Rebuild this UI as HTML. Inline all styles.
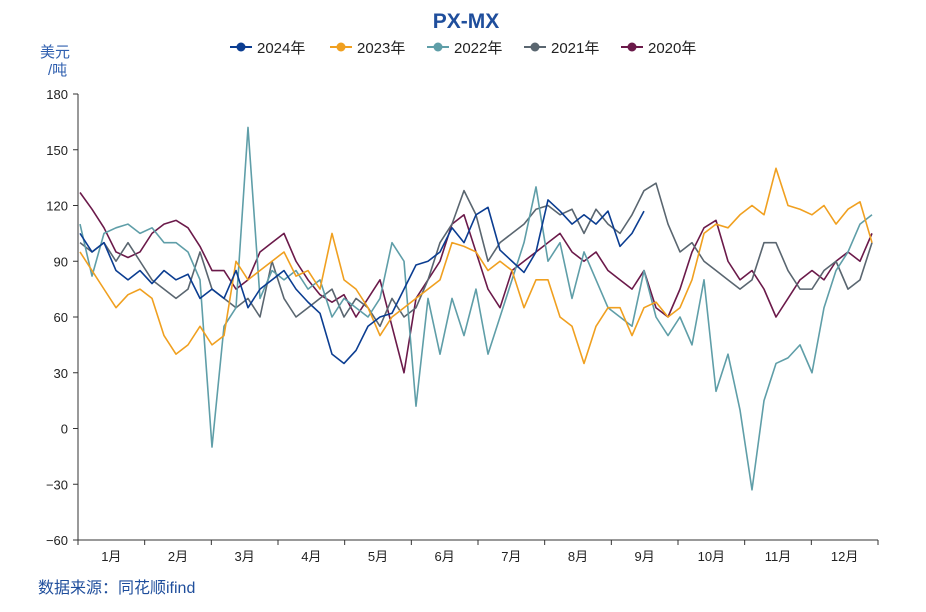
<!DOCTYPE html>
<html><head><meta charset="utf-8"><style>
body{margin:0;background:#fff;}
svg text{font-family:"Liberation Sans","Noto Sans CJK SC",sans-serif;}
</style></head><body>
<svg id="chart" width="926" height="607" xmlns="http://www.w3.org/2000/svg">
<text x="466" y="28" text-anchor="middle" font-size="21" font-weight="bold" fill="#1f4e9c">PX-MX</text>
<text x="40" y="57" font-size="15" fill="#2f5faf">美元</text>
<text x="48" y="75" font-size="15" fill="#2f5faf">/吨</text>
<text x="38" y="593" font-size="16" fill="#1f4e9c">数据来源：同花顺ifind</text>
<g id="legend"></g>
<g id="axes"></g>
<g id="series"></g>
</svg>
<script>
const months=["1月","2月","3月","4月","5月","6月","7月","8月","9月","10月","11月","12月"];
const yTicks=[180,150,120,90,60,30,0,-30,-60];
const seriesNames=["2024年","2023年","2022年","2021年","2020年"];
const s2024=[105,95,100,85,80,85,78,85,80,83,70,75,70,85,65,75,80,85,75,68,62,40,35,42,55,60,62,75,88,90,95,108,100,115,119,96,90,84,95,123,117,110,115,110,117,98,105,117];
const s2023=[95,85,75,65,72,75,70,50,40,45,55,45,50,90,80,85,90,95,82,85,75,105,80,75,65,50,60,65,70,75,80,100,98,95,85,90,85,65,80,80,60,55,35,55,65,65,50,65,68,60,65,80,105,110,108,115,120,115,140,120,118,115,120,110,118,122,100];
const s2022=[110,82,105,108,110,105,108,100,100,95,80,-10,55,65,162,70,85,80,85,75,80,60,70,65,60,70,100,90,12,70,40,70,50,75,40,60,80,100,130,90,100,70,95,80,65,60,55,85,60,50,60,45,80,20,40,10,-33,15,35,38,45,30,65,85,95,110,115];
const s2021=[100,95,100,90,100,90,80,75,70,75,95,75,70,65,70,60,90,70,60,65,70,75,60,70,65,55,70,60,65,80,100,110,128,115,90,100,105,110,118,120,115,118,105,118,110,105,115,128,132,110,95,100,90,85,80,75,80,100,100,85,75,75,85,90,75,80,100];
const s2020=[127,118,108,95,92,95,105,110,112,108,98,85,85,75,80,95,100,105,90,80,72,68,72,60,70,80,55,30,70,80,90,110,115,95,75,65,85,90,95,100,105,95,90,95,85,80,75,85,65,60,75,95,108,112,90,80,85,75,60,70,80,85,80,90,95,90,105];
const allSeries=[s2024,s2023,s2022,s2021,s2020];
const colors=["#0b3d91","#f0a020","#5f9ea8","#5a6670","#6b1a4a"];
const X0=78,X1=878,Y0=94,Y1=540,STEP=12;
const yScale=v=>Y0+(180-v)/240*(Y1-Y0);
const xScale=i=>X0+2+i*STEP;
const NS="http://www.w3.org/2000/svg";
function mk(t,a,p){const e=document.createElementNS(NS,t);for(const k in a)e.setAttribute(k,a[k]);p.appendChild(e);return e;}
const axes=document.getElementById('axes');
const ya=mk('line',{x1:X0,y1:Y0,x2:X0,y2:Y1,stroke:'#333','stroke-width':1},axes);


const xa=mk('line',{x1:X0,y1:Y1,x2:X1,y2:Y1,stroke:'#333','stroke-width':1},axes);


yTicks.forEach(v=>{const y=yScale(v);
 mk('line',{x1:X0-5,y1:y,x2:X0,y2:y,stroke:'#333'},axes);
 const t=mk('text',{x:68,y:y+5,'text-anchor':'end','font-size':13,fill:'#222'},axes);t.textContent=String(v).replace('-','\u2212');
 
 
});
const mw=(X1-X0)/12;
for(let i=0;i<=12;i++){mk('line',{x1:X0+i*mw,y1:Y1,x2:X0+i*mw,y2:Y1+5,stroke:'#333'},axes);}
months.forEach((m,i)=>{const t=mk('text',{x:X0+(i+0.5)*mw,y:Y1+21,'text-anchor':'middle','font-size':13,fill:'#222'},axes);t.textContent=m;
 
 
});
const sg=document.getElementById('series');
allSeries.slice().reverse().forEach((arr,ri)=>{const k=allSeries.length-1-ri;
 const p=mk('polyline',{points:arr.map((v,i)=>xScale(i)+','+yScale(v)).join(' '),fill:'none',stroke:colors[k],'stroke-width':1.6,'stroke-linejoin':'round'},sg);
 
 
});
const lg=document.getElementById('legend');
const lx=[230,330,427,524,621];
seriesNames.forEach((n,i)=>{const x=lx[i];
 const g=mk('g',{},lg);
 
 
 mk('line',{x1:x,y1:47,x2:x+22,y2:47,stroke:colors[i],'stroke-width':2},g);
 mk('circle',{cx:x+11,cy:47,r:4.5,fill:colors[i]},g);
 const t=mk('text',{x:x+27,y:53,'font-size':15,fill:'#222'},g);t.textContent=n;
});
</script>
</body></html>
